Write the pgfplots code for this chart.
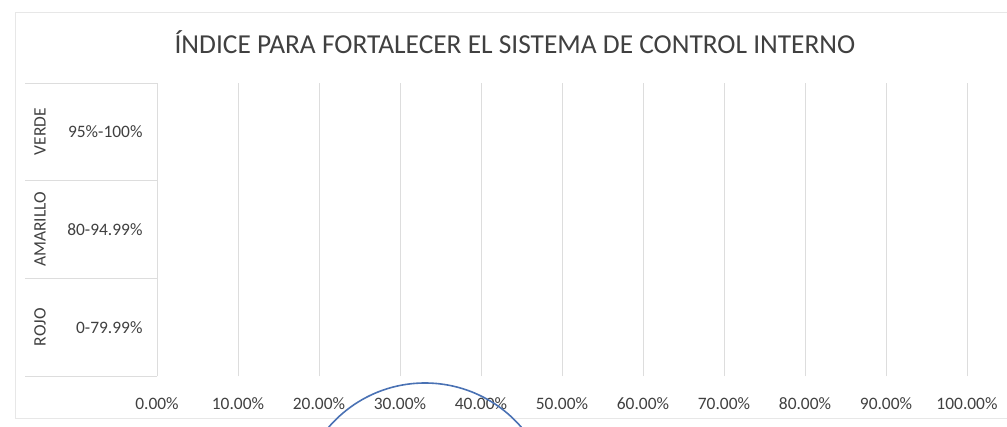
\documentclass[border=0pt]{standalone}
\usepackage{pgfplots}
\pgfplotsset{compat=1.18}
\usepackage{fontspec}
\setmainfont{Carlito}
\definecolor{txt}{HTML}{404040}
\definecolor{grd}{HTML}{DDDDDD}
\definecolor{pen}{HTML}{4A72B4}
\begin{document}
\begin{tikzpicture}[x=1bp,y=1bp]
\useasboundingbox (0,0) rectangle (1007,426);
% chart frame
\draw[grd!70, line width=0.8bp] (1007,414) -- (15,414) -- (15,8) -- (1007,8);
\node[txt, font=\fontsize{27.5}{30}\selectfont] at (515,384)
  {ÍNDICE PARA FORTALECER EL SISTEMA DE CONTROL INTERNO};
\begin{axis}[at={(157bp,50bp)}, anchor=south west,
  scale only axis, width=810bp, height=293bp,
  xmin=0, xmax=1, ymin=-0.5, ymax=2.5,
  xtick={0,0.1,0.2,0.3,0.4,0.5,0.6,0.7,0.8,0.9,1},
  xticklabels={0.00\%,10.00\%,20.00\%,30.00\%,40.00\%,50.00\%,60.00\%,70.00\%,80.00\%,90.00\%,100.00\%},
  ytick={0,1,2},
  yticklabels={0-79.99\%,80-94.99\%,95\%-100\%},
  xmajorgrids,
  major grid style={grd, line width=1bp},
  axis line style={draw=none},
  major tick length=0pt,
  ticklabel style={txt, font=\fontsize{17.5}{20}\selectfont},
  xticklabel style={yshift=-18bp},
  yticklabel style={xshift=-11bp},
  clip=false]
\addplot[xbar, draw=none, fill=none, bar width=0.6] coordinates {(0,0) (0,1) (0,2)};
% category table
\pgfplotsinvokeforeach{-0.5,0.5,1.5,2.5}{
  \draw[grd, line width=1bp] (axis cs:0,#1) -- ++(-132bp,0pt);
}
\draw[grd, line width=1bp] (axis cs:0,-0.5) -- (axis cs:0,2.5);
\node[rotate=90, txt, font=\fontsize{17.5}{20}\selectfont] at ([xshift=-117bp]axis cs:0,2) {VERDE};
\node[rotate=90, txt, font=\fontsize{17.5}{20}\selectfont] at ([xshift=-117bp]axis cs:0,1) {AMARILLO};
\node[rotate=90, txt, font=\fontsize{17.5}{20}\selectfont] at ([xshift=-117bp]axis cs:0,0) {ROJO};
\end{axis}
% hand-drawn mark on the scan
\begin{scope}
\clip (0,0) rectangle (1007,426);
\draw[pen, line width=1.6bp] (425,-84) circle (127);
\end{scope}
\end{tikzpicture}
\end{document}
